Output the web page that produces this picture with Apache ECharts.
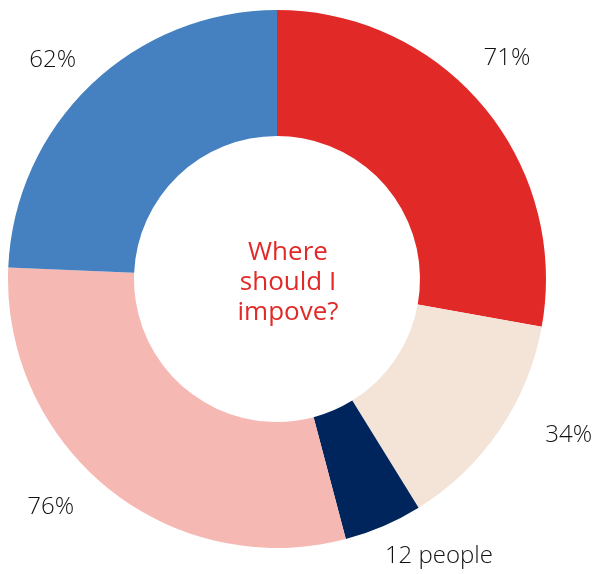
<!DOCTYPE html>
<html>
<head>
<meta charset="utf-8">
<script src="https://cdn.jsdelivr.net/npm/echarts@6/dist/echarts.min.js"></script>
<style>
  html, body { margin: 0; padding: 0; background: #fff; }
  #chart { width: 598px; height: 574px; }
</style>
</head>
<body>
<div id="chart"></div>
<script>
// slices clockwise from 12 o'clock
var names = ['A', 'B', 'C', 'D', 'E'];
var values = [71, 34, 12, 76, 62];
var labels = ['71%', '34%', '12 people', '76%', '62%'];
var colors = ['#e12a28', '#f4e4d7', '#00245c', '#f6b8b3', '#4580c0'];

// label placement tweaks (degrees off the slice middle, distance from centre)
var labelTurn = [-4, -6, -7, 6, -2];
var labelDist = [319, 331, 321, 321, 313];

var cx = 277, cy = 279;
var total = values.reduce(function (a, b) { return a + b; }, 0);

var myChart = echarts.init(document.getElementById('chart'));

var option = {
    animation: false,
    title: {
        text: 'Where\nshould I\nimpove?',
        left: 283,
        top: 233,
        textAlign: 'center',
        textStyle: {
            fontFamily: 'Open Sans',
            fontWeight: 'normal',
            fontSize: 26,
            lineHeight: 30,
            color: '#e12a28'
        }
    },
    series: [{
        type: 'pie',
        center: [cx, cy],
        radius: [143, 269],
        startAngle: 90,
        clockwise: true,
        avoidLabelOverlap: false,
        data: names.map(function (n, i) {
            return { name: n, value: values[i], itemStyle: { color: colors[i] } };
        }),
        label: {
            show: true,
            position: 'outside',
            formatter: function (p) { return labels[p.dataIndex]; },
            fontFamily: 'Open Sans',
            fontWeight: 300,
            fontSize: 24,
            color: '#111'
        },
        labelLine: { show: false },
        labelLayout: function (params) {
            var i = params.dataIndex;
            var before = 0;
            for (var k = 0; k < i; k++) before += values[k];
            var mid = (before + values[i] / 2) / total * 360 + labelTurn[i];
            var a = mid * Math.PI / 180;
            return {
                x: cx + labelDist[i] * Math.sin(a),
                y: cy - labelDist[i] * Math.cos(a),
                align: 'center',
                verticalAlign: 'middle'
            };
        }
    }]
};

myChart.setOption(option);
</script>
</body>
</html>
